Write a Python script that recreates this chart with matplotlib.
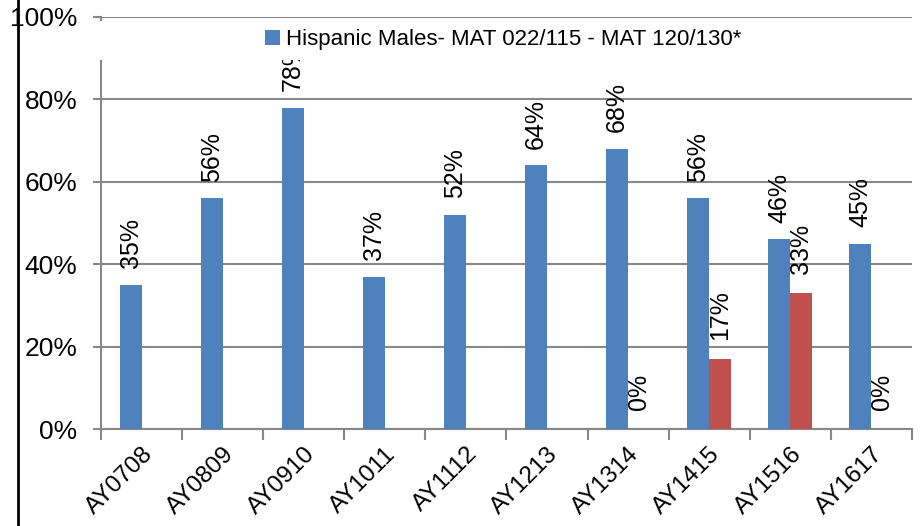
import matplotlib
matplotlib.use('Agg')
import matplotlib.pyplot as plt
from matplotlib.patches import Rectangle
import numpy as np

# data
years = ['AY0708', 'AY0809', 'AY0910', 'AY1011', 'AY1112',
         'AY1213', 'AY1314', 'AY1415', 'AY1516', 'AY1617']
blue_vals = [35, 56, 78, 37, 52, 64, 68, 56, 46, 45]
red_vals = [None, None, None, None, None, None, 0, 17, 33, 0]
legend_label = 'Hispanic Males- MAT 022/115 - MAT 120/130*'

plt.rcParams['font.family'] = ['Liberation Sans', 'DejaVu Sans']

fig = plt.figure(figsize=(9.23, 5.26), dpi=100)
ax = fig.add_axes([0.1094, 0.1844, 0.8786, 0.7833])

x = np.arange(len(years))
w = 0.27
blue = '#4F81BD'
red = '#C0504D'

bars_b = ax.bar(x - w / 2, blue_vals, w, color=blue, zorder=3, label=legend_label)
red_x = [xi + w / 2 for xi, v in zip(x, red_vals) if v is not None]
red_y = [v for v in red_vals if v is not None]
ax.bar(red_x, red_y, w, color=red, zorder=3)

for xi, v in zip(x - w / 2, blue_vals):
    ax.annotate('%d%%' % v, (xi, v), xytext=(0, 12), textcoords='offset points',
                rotation=90, ha='center', va='bottom', fontsize=18, zorder=4)
for xi, v in zip(red_x, red_y):
    ax.annotate('%d%%' % v, (xi, v), xytext=(0, 14), textcoords='offset points',
                rotation=90, ha='center', va='bottom', fontsize=18, zorder=4)

ax.set_xlim(-0.5, len(years) - 0.5)
ax.set_ylim(0, 100)
ax.set_yticks(range(0, 101, 20))
ax.set_yticklabels(['%d%%' % t for t in range(0, 101, 20)], fontsize=19)
ax.yaxis.grid(True, color='#888888', linewidth=1.5, zorder=0)
ax.set_axisbelow(True)

# boundary ticks and centred labels
ax.set_xticks(np.arange(-0.5, len(years), 1.0))
ax.set_xticklabels([])
ax.set_xticks(x, minor=True)
ax.set_xticklabels(years, minor=True, rotation=45, ha='right', va='top',
                   rotation_mode='anchor', fontsize=17.5)
ax.tick_params(axis='x', which='major', length=8, width=1.5, color='#888888')
ax.tick_params(axis='x', which='minor', length=0, pad=10)
ax.tick_params(axis='y', length=6, width=1.5, color='#888888', pad=11)

for s in ['top', 'right']:
    ax.spines[s].set_visible(False)
ax.spines['left'].set_color('#888888')
ax.spines['left'].set_linewidth(1.5)
ax.spines['bottom'].set_color('#888888')
ax.spines['bottom'].set_linewidth(1.5)

# white legend area over the top of the plot
ax.add_patch(Rectangle((-0.01, 0.895), 0.88, 0.095, transform=ax.transAxes,
                       facecolor='white', edgecolor='none', zorder=10, clip_on=False))
leg = ax.legend(handles=[bars_b], loc='center left', bbox_to_anchor=(0.202, 0.945),
                frameon=False, fontsize=16, handlelength=0.7, handleheight=0.7,
                handletextpad=0.25, borderaxespad=0, borderpad=0)
leg.set_zorder(11)

# border line on the left of the image
fig.add_artist(plt.Line2D([0.0195, 0.0195], [0, 1], color='black', linewidth=2,
                          transform=fig.transFigure))

fig.savefig('out.png', dpi=100)
